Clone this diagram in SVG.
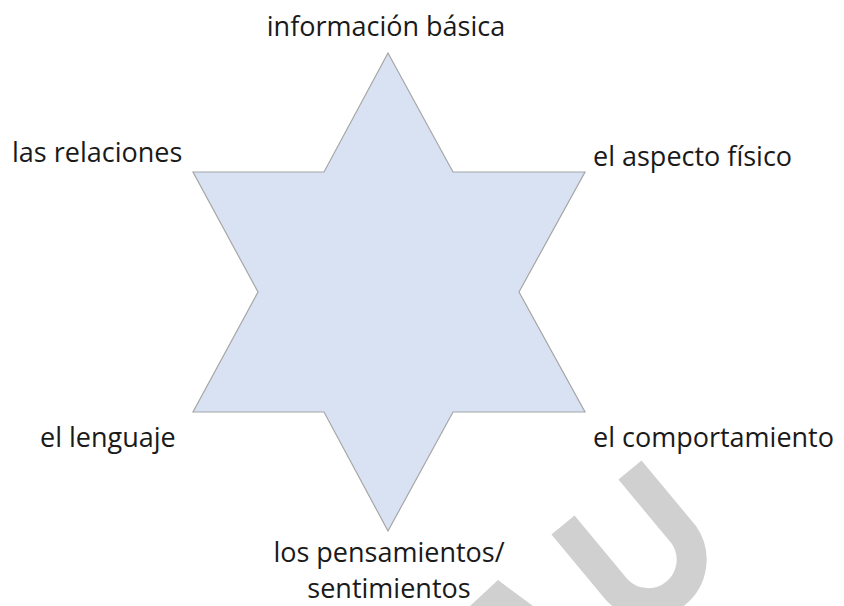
<svg xmlns="http://www.w3.org/2000/svg" width="844" height="606" viewBox="0 0 844 606">
<style>
.lbl{font-family:"Open Sans","Noto Sans","Liberation Sans",sans-serif;font-size:27px;fill:#1a1a1a}
.wm{fill:#d0d0d0}
</style>
<rect width="844" height="606" fill="#ffffff"/>
<g id="star">
<polygon points="388,53 453,172 585,172 519,292 585,412 453,412 388,531 324,412 193,412 258,292 193,172 324,172" fill="#d9e2f3" stroke="#a6a6a6" stroke-width="1.2"/>
</g>
<g id="label-top"><text class="lbl" x="386" y="36" text-anchor="middle">información básica</text></g>
<g id="label-upper-left"><text class="lbl" x="12" y="162">las relaciones</text></g>
<g id="label-upper-right"><text class="lbl" x="593" y="166">el aspecto físico</text></g>
<g id="label-lower-left"><text class="lbl" x="40" y="447">el lenguaje</text></g>
<g id="label-lower-right"><text class="lbl" x="593" y="447">el comportamiento</text></g>
<g id="label-bottom"><text class="lbl" text-anchor="middle"><tspan x="389" y="562">los pensamientos/</tspan><tspan x="389" y="598">sentimientos</tspan></text></g>
<g id="watermark">
<polygon class="wm" points="498,580 470,606 533,606"/>
<path d="M563,525 L617,590 A43.5,43.5 0 0 0 684,535 L630,470" fill="none" stroke="#d0d0d0" stroke-width="30"/>
</g>
</svg>
